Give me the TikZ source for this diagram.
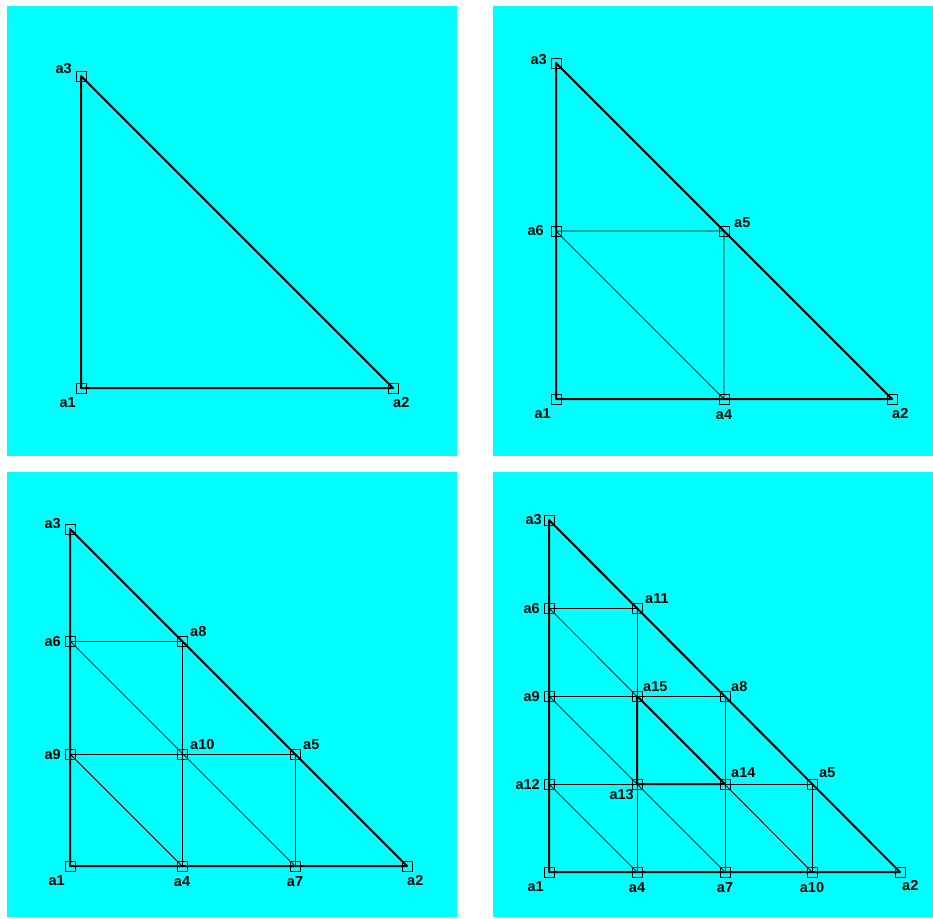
\documentclass[tikz,border=0pt]{standalone}
\usepackage{fontspec}
\setsansfont{Liberation Sans}
\usepackage{tikz}
\usetikzlibrary{positioning}
\definecolor{bgcyan}{RGB}{0,255,255}

\begin{document}
\begin{tikzpicture}[x=1pt, y=-1pt, vtx/.style={draw, rectangle, minimum size=10pt, inner sep=0pt, line width=0.8pt}, lbl/.style={font=\sffamily\bfseries\fontsize{14.5}{16}\selectfont, inner sep=0pt}, outer/.style={line width=2pt, line join=round}, inner/.style={line width=0.8pt}]
\useasboundingbox (0,0) rectangle (933,918);
\fill[bgcyan] (7,6) rectangle (457,456);
\fill[bgcyan] (493,6) rectangle (933,456);
\fill[bgcyan] (7,472) rectangle (457,917);
\fill[bgcyan] (493,472) rectangle (933,917);
% panel 1
\node[vtx] (A1) at (81,388) {};
\node[vtx] (A2) at (393,388) {};
\node[vtx] (A3) at (81,76) {};
\draw[outer] (A1.center) -- (A2.center) -- (A3.center) -- cycle;
\node[lbl, below left=9pt and 5pt of A1.center] (A1l) {a1};
\node[lbl, below right=9pt and 0pt of A2.center] (A2l) {a2};
\node[lbl, left=9pt of A3.center, yshift=7pt] (A3l) {a3};
% panel 2
\node[vtx] (B1) at (556,399) {};
\node[vtx] (B2) at (892,399) {};
\node[vtx] (B3) at (556,63) {};
\node[vtx] (B4) at (724,399) {};
\node[vtx] (B5) at (724,231) {};
\node[vtx] (B6) at (556,231) {};
\draw[inner] (B6.center) -- (B5.center) -- (B4.center) -- cycle;
\draw[outer] (B1.center) -- (B2.center) -- (B3.center) -- cycle;
\node[lbl, below left=9pt and 5pt of B1.center] (B1l) {a1};
\node[lbl, below right=9pt and 0pt of B2.center] (B2l) {a2};
\node[lbl, left=9pt of B3.center, yshift=3pt] (B3l) {a3};
\node[lbl, below=10pt of B4.center] (B4l) {a4};
\node[lbl, above right=3pt and 10pt of B5.center] (B5l) {a5};
\node[lbl, left=12pt of B6.center] (B6l) {a6};
% panel 3
\node[vtx] (C1) at (70,866) {};
\node[vtx] (C2) at (407,866) {};
\node[vtx] (C3) at (70,529) {};
\node[vtx] (C4) at (182,866) {};
\node[vtx] (C5) at (295,754) {};
\node[vtx] (C6) at (70,641) {};
\node[vtx] (C7) at (295,866) {};
\node[vtx] (C8) at (182,641) {};
\node[vtx] (C9) at (70,754) {};
\node[vtx] (C10) at (182,754) {};
\draw[inner] (C6.center) -- (C8.center) -- (C4.center);
\draw[inner] (C9.center) -- (C5.center) -- (C7.center);
\draw[inner] (C6.center) -- (C7.center);
\draw[inner] (C9.center) -- (C4.center);
\draw[outer] (C1.center) -- (C2.center) -- (C3.center) -- cycle;
\node[lbl, below left=9pt and 5pt of C1.center] (C1l) {a1};
\node[lbl, below right=9pt and 0pt of C2.center] (C2l) {a2};
\node[lbl, left=9pt of C3.center, yshift=5pt] (C3l) {a3};
\node[lbl, below=10pt of C4.center] (C4l) {a4};
\node[lbl, above right=4pt and 8pt of C5.center] (C5l) {a5};
\node[lbl, left=9pt of C6.center] (C6l) {a6};
\node[lbl, below=10pt of C7.center] (C7l) {a7};
\node[lbl, above right=4pt and 8pt of C8.center] (C8l) {a8};
\node[lbl, left=9pt of C9.center] (C9l) {a9};
\node[lbl, above right=4pt and 8pt of C10.center] (C10l) {a10};
% panel 4
\node[vtx] (D1) at (549,872) {};
\node[vtx] (D2) at (900,872) {};
\node[vtx] (D3) at (549,520) {};
\node[vtx] (D4) at (637,872) {};
\node[vtx] (D5) at (812,784) {};
\node[vtx] (D6) at (549,608) {};
\node[vtx] (D7) at (725,872) {};
\node[vtx] (D8) at (725,696) {};
\node[vtx] (D9) at (549,696) {};
\node[vtx] (D10) at (812,872) {};
\node[vtx] (D11) at (637,608) {};
\node[vtx] (D12) at (549,784) {};
\node[vtx] (D13) at (637,784) {};
\node[vtx] (D14) at (725,784) {};
\node[vtx] (D15) at (637,696) {};
\draw[inner] (D6.center) -- (D11.center) -- (D4.center);
\draw[inner] (D9.center) -- (D8.center) -- (D7.center);
\draw[inner] (D12.center) -- (D5.center) -- (D10.center);
\draw[inner] (D6.center) -- (D10.center);
\draw[inner] (D9.center) -- (D7.center);
\draw[inner] (D12.center) -- (D4.center);
\draw[outer] (D13.center) -- (D14.center) -- (D15.center) -- cycle;
\draw[outer] (D1.center) -- (D2.center) -- (D3.center) -- cycle;
\node[lbl, below left=9pt and 5pt of D1.center] (D1l) {a1};
\node[lbl, below right=8pt and 2pt of D2.center] (D2l) {a2};
\node[lbl, left=7pt of D3.center] (D3l) {a3};
\node[lbl, below=10pt of D4.center] (D4l) {a4};
\node[lbl, above right=6pt and 7pt of D5.center] (D5l) {a5};
\node[lbl, left=9pt of D6.center] (D6l) {a6};
\node[lbl, below=10pt of D7.center] (D7l) {a7};
\node[lbl, above right=4pt and 6pt of D8.center] (D8l) {a8};
\node[lbl, left=9pt of D9.center] (D9l) {a9};
\node[lbl, below=10pt of D10.center] (D10l) {a10};
\node[lbl, above right=4pt and 8pt of D11.center] (D11l) {a11};
\node[lbl, left=9pt of D12.center] (D12l) {a12};
\node[lbl, below left=5pt and 3pt of D13.center] (D13l) {a13};
\node[lbl, above right=6pt and 6pt of D14.center] (D14l) {a14};
\node[lbl, above right=4pt and 6pt of D15.center] (D15l) {a15};
\end{tikzpicture}
\end{document}
